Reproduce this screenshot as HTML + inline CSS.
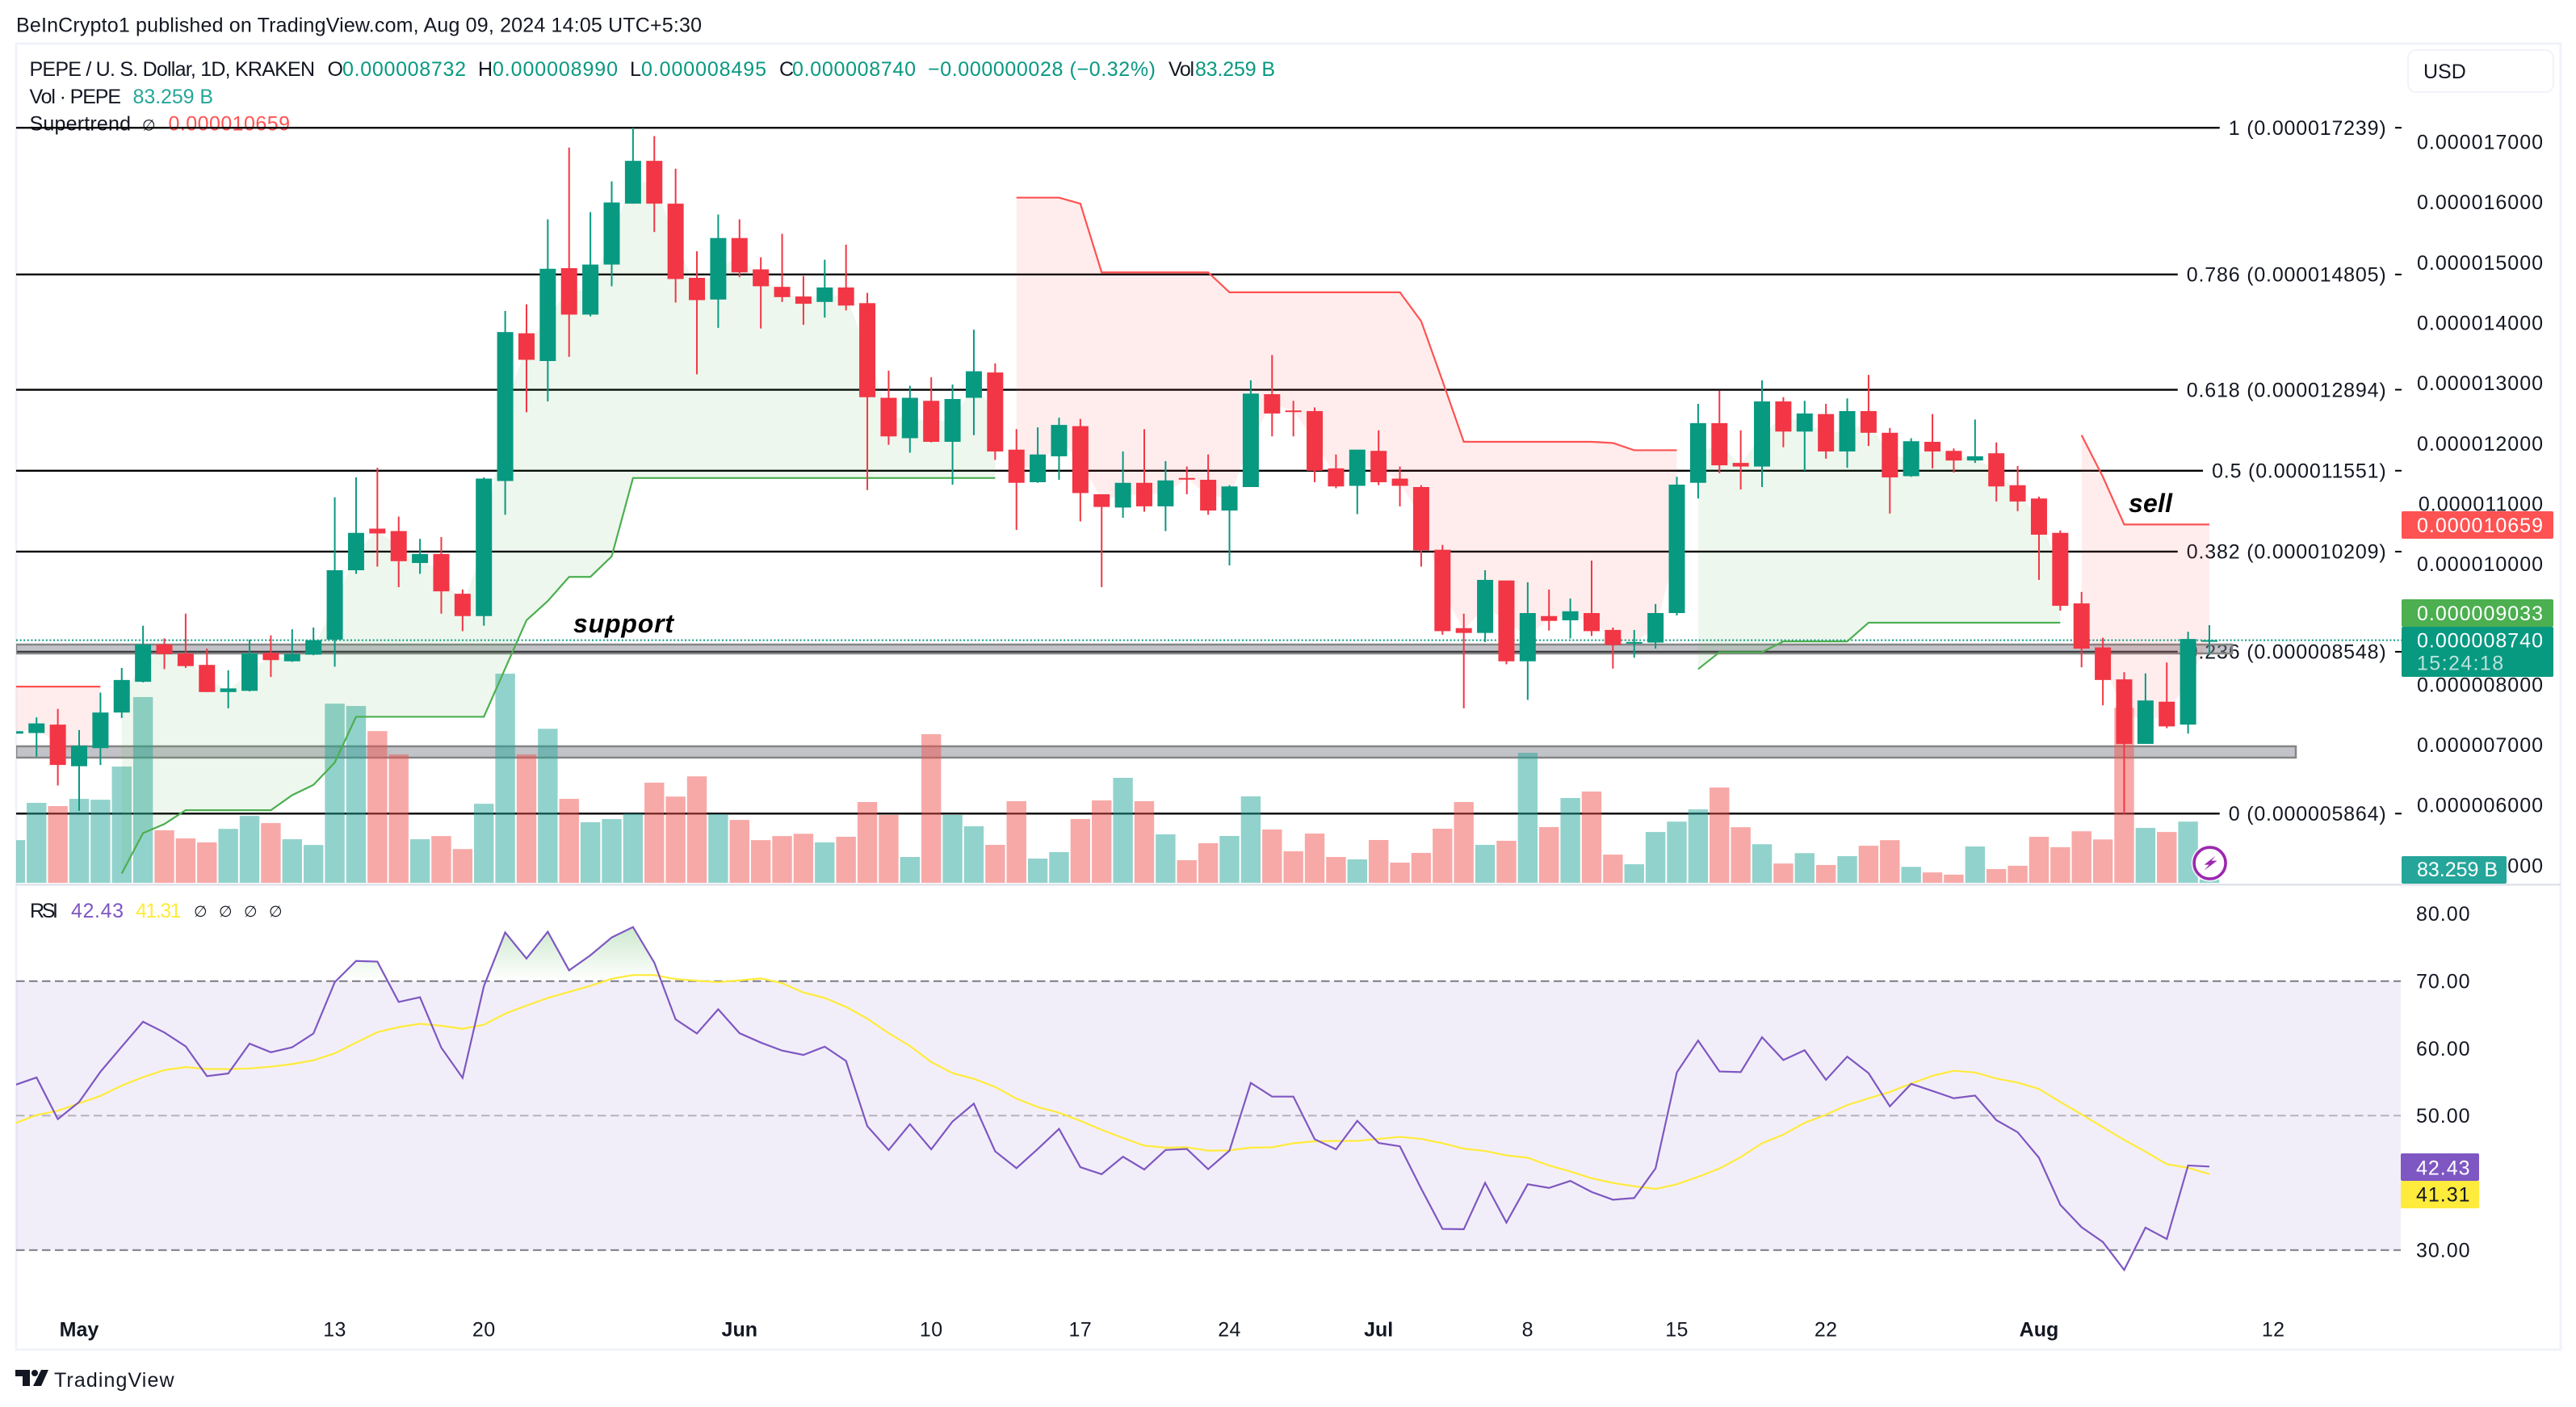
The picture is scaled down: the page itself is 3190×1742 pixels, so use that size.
<!DOCTYPE html>
<html lang="en">
<head>
<meta charset="utf-8">
<title>PEPE / U. S. Dollar chart</title>
<style>
html,body{margin:0;padding:0;background:#fff;width:3190px;height:1742px;overflow:hidden}
svg{display:block;font-family:"Liberation Sans","DejaVu Sans",sans-serif}
text{fill:#131722;font-size:25px}
</style>
</head>
<body>
<svg id="chart" xmlns="http://www.w3.org/2000/svg" width="3190" height="1742" viewBox="0 0 3190 1742">
  <defs>
    <clipPath id="plot-clip"><rect x="20" y="56" width="2954" height="1038"/></clipPath>
    <clipPath id="rsi-clip"><rect x="20" y="1097" width="2954" height="500"/></clipPath>
    <clipPath id="rsi-over-clip"><rect x="20" y="1097" width="2954" height="117.7"/></clipPath>
    <linearGradient id="rsi-over-grad" gradientUnits="userSpaceOnUse" x1="0" y1="1148" x2="0" y2="1214.7">
      <stop offset="0" stop-color="#4caf50" stop-opacity="0.28"/>
      <stop offset="1" stop-color="#4caf50" stop-opacity="0"/>
    </linearGradient>
  </defs>
  <rect x="0" y="0" width="3190" height="1742" fill="#ffffff"/>
  <text x="20" y="39.5" textLength="849" font-size="25">BeInCrypto1 published on TradingView.com, Aug 09, 2024 14:05 UTC+5:30</text>
  <rect x="20" y="54" width="3151" height="1617" fill="none" stroke="#f0f3fa" stroke-width="3"/>

  <g>
    <text x="36.5" y="94" textLength="353.5">PEPE / U. S. Dollar, 1D, KRAKEN</text>
    <text x="405.5" y="94">O</text>
    <text x="424" y="94" textLength="153" style="fill:#089981">0.000008732</text>
    <text x="592" y="94">H</text>
    <text x="610" y="94" textLength="155" style="fill:#089981">0.000008990</text>
    <text x="780" y="94">L</text>
    <text x="794" y="94" textLength="155" style="fill:#089981">0.000008495</text>
    <text x="965" y="94">C</text>
    <text x="981" y="94" textLength="153" style="fill:#089981">0.000008740</text>
    <text x="1149" y="94" textLength="282" style="fill:#089981">−0.000000028 (−0.32%)</text>
    <text x="1447" y="94" textLength="32">Vol</text>
    <text x="1480" y="94" textLength="99" style="fill:#089981">83.259 B</text>
    <text x="36.5" y="128" textLength="113.5">Vol · PEPE</text>
    <text x="164.5" y="128" textLength="99.5" style="fill:#26a69a">83.259 B</text>
    <text x="36.5" y="161.7" textLength="125.5">Supertrend</text>
    <text x="176" y="161.7" style="font-size:19px">∅</text>
    <text x="208.5" y="161.7" textLength="150.5" style="fill:#ff5252">0.000010659</text>
  </g>

  <g id="main-plot" clip-path="url(#plot-clip)">
    <g id="fib-layer"></g>
    <rect x="20" y="798" width="2744" height="11" fill="#787b86" fill-opacity="0.45" stroke="#858585" stroke-width="2.5"/>
    <rect x="20" y="924" width="2823" height="14" fill="#787b86" fill-opacity="0.45" stroke="#858585" stroke-width="2.5"/>
    <g id="volume-layer"></g>
    <g id="fill-layer"></g>
    <line id="price-line" stroke="#089981" stroke-width="2" stroke-dasharray="2 2.6"/>
    <g id="super-layer"></g>
    <g id="candle-layer"></g>
    <text x="710" y="783" textLength="124" style="font-size:32px;font-weight:bold;font-style:italic;fill:#000">support</text>
    <text x="2636" y="634" textLength="54" style="font-size:32px;font-weight:bold;font-style:italic;fill:#000">sell</text>
    <circle cx="2736.6" cy="1068.6" r="23" fill="#ffffff" fill-opacity="0.75"/>
    <circle cx="2736.6" cy="1068.6" r="19.5" fill="#ffffff" stroke="#9c27b0" stroke-width="3.6"/>
    <polygon fill="#9c27b0" points="2743.6,1059.6 2729.6,1070.6 2735.6,1070.6 2729.6,1077.6 2745.6,1065.6 2738.6,1065.6"/>
  </g>

  <g id="price-axis"></g>
  <g>
    <rect x="2982" y="62" width="180" height="52" rx="10" fill="#ffffff" stroke="#f0f3fa" stroke-width="2"/>
    <text x="3001" y="97">USD</text>
  </g>
  <g>
    <rect x="2974" y="633" width="188" height="34" rx="2" fill="#ff5252"/>
    <text x="2993" y="659" style="fill:#fff;letter-spacing:1px">0.000010659</text>
    <rect x="2974" y="742" width="188" height="34" rx="2" fill="#4caf50"/>
    <text x="2993" y="768" style="fill:#fff;letter-spacing:1px">0.000009033</text>
    <rect x="2974" y="776" width="188" height="62" rx="2" fill="#089981"/>
    <text x="2993" y="801.5" style="fill:#fff;letter-spacing:1px">0.000008740</text>
    <text x="2993" y="829.5" style="fill:#fff;fill-opacity:.72;letter-spacing:1.4px">15:24:18</text>
    <rect x="2974" y="1060" width="130" height="34" rx="2" fill="#26a69a"/>
    <text x="2993" y="1085" textLength="100" style="fill:#fff">83.259 B</text>
  </g>

  <rect x="20" y="1094" width="3151" height="2.5" fill="#e0e3eb"/>

  <g>
    <rect id="rsi-band" fill="#7e57c2" fill-opacity="0.1"/>
    <g id="rsi-levels"></g>
    <polygon id="rsi-over" fill="url(#rsi-over-grad)" clip-path="url(#rsi-over-clip)"/>
    <g clip-path="url(#rsi-clip)">
      <polyline id="rsi-ma-line" fill="none" stroke="#ffeb3b" stroke-width="2.2"/>
      <polyline id="rsi-line" fill="none" stroke="#7e57c2" stroke-width="2.2"/>
    </g>
    <text x="37" y="1136" textLength="35">RSI</text>
    <text x="88" y="1136" textLength="65" style="fill:#7e57c2">42.43</text>
    <text x="168" y="1136" textLength="56.5" style="fill:#ffeb3b">41.31</text>
    <text x="240" y="1135" style="font-size:19px">∅</text>
    <text x="271" y="1135" style="font-size:19px">∅</text>
    <text x="302" y="1135" style="font-size:19px">∅</text>
    <text x="333" y="1135" style="font-size:19px">∅</text>
    <g id="rsi-axis"></g>
    <rect x="2973" y="1428" width="97" height="34" rx="2" fill="#7e57c2"/>
    <text x="2992" y="1454.5" style="fill:#fff;letter-spacing:1px">42.43</text>
    <rect x="2973" y="1462" width="97" height="34" rx="2" fill="#ffeb3b"/>
    <text x="2992" y="1487.5" style="letter-spacing:1px">41.31</text>
  </g>

  <g id="time-axis"></g>

  <g>
    <path d="M19 1696H37V1716H28V1704H19Z" fill="#131722"/>
    <circle cx="43" cy="1700" r="4" fill="#131722"/>
    <polygon points="51,1696 60,1696 51,1716 41,1716" fill="#131722"/>
    <text x="67" y="1717" textLength="148.5">TradingView</text>
  </g>
</svg>

<script>
// Values are in units of 0.000001 USD; index 0 is three days before May 1 (firstDay).
var firstDay = -3;
var opens = [7.19,7.20,7.34,6.65,6.95,7.54,8.05,8.67,8.52,8.33,7.88,7.90,8.53,8.39,8.50,8.75,9.90,10.59,10.55,10.02,10.17,9.51,9.14,11.38,13.83,13.37,14.91,14.14,14.97,15.98,16.69,15.98,14.75,14.39,15.41,14.89,14.60,14.44,14.35,14.59,14.33,12.76,12.09,12.71,12.03,12.76,13.18,11.90,11.36,11.79,12.29,11.16,10.94,11.35,10.96,11.43,11.40,10.89,11.28,12.82,12.55,12.54,11.59,11.30,11.88,11.42,11.28,10.24,8.94,8.86,9.73,8.39,9.14,9.07,9.19,8.91,8.69,8.70,9.19,11.35,12.34,11.68,11.62,12.70,12.20,12.49,11.87,12.54,12.18,11.46,12.03,11.88,11.72,11.84,11.31,11.09,10.52,9.35,8.62,8.09,7.02,7.72,7.34,8.732];
var highs = [7.30,7.46,7.60,7.25,7.87,8.28,8.98,8.77,9.18,8.60,8.24,8.75,8.82,8.92,8.95,11.11,11.44,11.60,10.79,10.42,10.45,9.58,11.44,14.20,14.31,15.72,16.91,15.84,16.35,17.24,17.10,16.56,15.19,15.80,15.72,15.09,15.48,14.78,15.05,15.30,14.50,13.21,12.96,13.10,12.98,13.89,13.33,12.24,12.27,12.43,12.41,11.16,11.87,12.24,11.71,11.62,11.82,11.31,13.05,13.47,12.71,12.60,11.82,11.90,12.22,11.62,11.31,10.32,9.18,9.90,9.73,9.70,9.58,9.43,10.06,8.95,8.91,9.34,11.45,12.66,12.88,12.22,13.05,12.77,12.71,12.66,12.75,13.14,12.26,12.09,12.49,11.92,12.40,12.02,11.63,11.12,10.56,9.54,8.78,8.21,8.19,8.37,8.88,8.99];
var lows = [7.10,6.81,6.33,5.91,6.67,7.45,8.04,8.26,8.28,7.88,7.61,7.89,8.13,8.38,8.49,8.30,9.84,9.96,9.62,9.84,9.18,8.89,8.98,10.82,12.52,12.70,13.44,14.11,14.61,15.98,15.51,14.34,13.15,13.92,14.76,13.91,14.35,13.97,14.09,14.21,11.23,11.98,11.85,12.02,11.32,12.14,11.73,10.57,11.35,11.40,10.71,9.62,10.77,10.87,10.55,11.16,10.82,9.98,11.28,12.12,12.12,11.36,11.26,10.83,11.31,10.96,9.96,8.83,7.61,8.71,8.34,7.75,8.90,8.77,8.81,8.27,8.45,8.60,9.15,11.09,11.51,11.24,11.28,11.94,11.55,11.75,11.60,11.96,10.84,11.45,11.59,11.52,11.68,11.04,10.88,9.74,9.23,8.29,7.66,5.86,7.02,7.28,7.19,8.495];
var closes = [7.23,7.36,6.67,6.99,7.54,8.08,8.67,8.51,8.31,7.88,7.94,8.52,8.41,8.51,8.74,9.90,10.52,10.51,10.05,10.17,9.55,9.14,11.42,13.85,13.39,14.90,14.14,14.97,16.00,16.69,15.98,14.73,14.38,15.41,14.84,14.61,14.43,14.32,14.59,14.29,12.77,12.12,12.76,12.03,12.74,13.20,11.87,11.35,11.82,12.31,11.18,10.95,11.35,10.96,11.39,11.41,10.89,11.29,12.83,12.50,12.53,11.55,11.29,11.90,11.36,11.30,10.23,8.89,8.86,9.74,8.39,9.19,9.06,9.22,8.89,8.66,8.71,9.19,11.32,12.34,11.64,11.62,12.70,12.20,12.50,11.87,12.54,12.18,11.44,12.04,11.87,11.72,11.79,11.29,11.04,10.49,9.31,8.60,8.08,7.02,7.74,7.31,8.76,8.74];
var volumes = [1057,1979,1900,2079,2057,2879,4600,1300,1100,1000,1336,1657,1479,1079,936,4436,4379,3757,3179,1079,1157,836,1957,5179,3179,3814,2079,1500,1579,1714,2479,2136,2636,1700,1557,1057,1157,1214,1000,1140,2000,1680,640,3680,1680,1400,940,2020,600,760,1580,2040,2600,2020,1200,560,980,1160,2140,1320,780,1220,640,580,1060,500,740,1340,2000,940,1040,3220,1380,2100,2260,698,460,1258,1515,1818,2360,1377,955,478,735,441,661,918,1056,395,257,202,900,340,422,1139,882,1276,1074,4334,1359,1258,1515,83];
var n = null;
var supertrendUp = [n,n,n,n,n,4.87,5.54,5.69,5.92,5.92,5.92,5.92,5.92,6.17,6.34,6.71,7.47,7.47,7.47,7.47,7.47,7.47,7.47,8.27,9.07,9.39,9.79,9.79,10.13,11.43,11.43,11.43,11.43,11.43,11.43,11.43,11.43,11.43,11.43,11.43,11.43,11.43,11.43,11.43,11.43,11.43,11.43,n,n,n,n,n,n,n,n,n,n,n,n,n,n,n,n,n,n,n,n,n,n,n,n,n,n,n,n,n,n,n,n,8.26,8.54,8.54,8.54,8.72,8.72,8.72,8.72,9.03,9.03,9.03,9.03,9.03,9.03,9.03,9.03,9.03,9.03,n,n,n,n,n,n,n];
var supertrendDown = [7.97,7.97,7.97,7.97,7.97,n,n,n,n,n,n,n,n,n,n,n,n,n,n,n,n,n,n,n,n,n,n,n,n,n,n,n,n,n,n,n,n,n,n,n,n,n,n,n,n,n,n,16.08,16.08,16.08,15.98,14.84,14.84,14.84,14.84,14.84,14.84,14.51,14.51,14.51,14.51,14.51,14.51,14.51,14.51,14.51,14.03,13.04,12.03,12.03,12.03,12.03,12.03,12.03,12.03,12.01,11.89,11.89,11.89,n,n,n,n,n,n,n,n,n,n,n,n,n,n,n,n,n,n,12.14,11.45,10.659,10.659,10.659,10.659,10.659];
var rsiValues = [54.57,55.67,49.48,52.03,56.52,60.26,63.96,62.36,60.31,55.87,56.27,60.71,59.42,60.16,62.21,69.85,73.0,72.9,66.9,67.6,60.1,55.62,69.25,77.24,73.35,77.34,71.6,73.84,76.49,78.04,72.75,64.31,62.21,65.81,62.26,60.86,59.67,59.02,60.26,58.12,48.43,44.89,48.73,44.99,49.13,51.78,44.69,42.19,45.04,48.03,42.34,41.29,43.89,41.99,44.89,45.04,42.04,44.79,54.87,52.83,52.83,46.49,44.99,49.23,45.94,45.44,39.15,33.16,33.11,40.0,34.1,39.8,39.25,40.3,38.65,37.5,37.75,42.14,56.42,61.16,56.57,56.47,61.66,58.27,59.72,55.32,58.77,56.32,51.38,54.72,53.67,52.58,52.98,49.33,47.53,43.74,36.75,33.41,31.21,27.06,33.35,31.66,42.59,42.43];
var rsiMaValues = [48.88,50.08,50.73,51.83,52.93,54.47,55.72,56.77,57.22,56.92,56.92,57.02,57.27,57.67,58.22,59.27,60.86,62.41,63.16,63.66,63.36,62.91,63.51,65.16,66.36,67.5,68.4,69.3,70.35,70.9,70.9,70.3,70.05,69.85,70.1,70.4,69.7,68.3,67.5,66.16,64.41,62.26,60.36,57.97,56.32,55.47,54.27,52.53,51.28,50.43,49.23,47.88,46.68,45.54,45.24,45.29,44.79,44.84,45.24,45.29,45.89,46.19,46.24,46.24,46.54,46.84,46.54,45.89,45.09,44.74,44.09,43.74,42.59,41.69,40.69,39.99,39.5,39.1,39.8,40.9,42.14,43.84,45.89,47.18,48.93,50.13,51.58,52.58,53.52,54.77,55.92,56.67,56.42,55.52,54.92,53.97,52.03,50.18,48.28,46.39,44.64,42.79,42.24,41.31];
var fibRatios = ["1","0.786","0.618","0.5","0.382","0.236","0"];
var fibPrices = [17.239,14.805,12.894,11.551,10.209,8.548,5.864];
var fibPriceLabels = ["0.000017239","0.000014805","0.000012894","0.000011551","0.000010209","0.000008548","0.000005864"];
var priceTickValues = [17,16,15,14,13,12,11,10,8,7,6,5];
var priceTickLabels = ["0.000017000","0.000016000","0.000015000","0.000014000","0.000013000","0.000012000","0.000011000","0.000010000","0.000008000","0.000007000","0.000006000","0.000005000"];
var rsiTickValues = [80,70,60,50,30];
var rsiTickLabels = ["80.00","70.00","60.00","50.00","30.00"];
var rsiLevelValues = [70,50,30];
var timeTickDays = [0,12,19,31,40,47,54,61,68,75,82,92,103];
var timeTickLabels = ["May","13","20","Jun","10","17","24","Jul","8","15","22","Aug","12"];
var timeTickMajor = [1,0,0,1,0,0,0,1,0,0,0,1,0];
var lastPrice = 8.74;

var SVGNS = "http://www.w3.org/2000/svg";
function mk(tag, attrs, parent) {
  var el = document.createElementNS(SVGNS, tag);
  for (var k in attrs) el.setAttribute(k, attrs[k]);
  parent.appendChild(el);
  return el;
}
function xDay(day) { return 98 + 26.38 * day; }
function xIdx(k) { return xDay(k + firstDay); }
function yPrice(p) { return 176 + (17 - p) * 74.65; }
function hVolume(v) { return v * 0.05; }
function yRsi(v) { return 1214.7 + (70 - v) * 8.3275; }
var volumeBase = 1093;

// Fibonacci retracement
var fibLayer = document.getElementById("fib-layer");
fibRatios.forEach(function (r, i) {
  var y = yPrice(fibPrices[i]);
  var t = mk("text", { x: 2955.5, y: y + 8.8, "text-anchor": "end", style: "letter-spacing:.82px" }, fibLayer);
  
  
  t.textContent = r + " (" + fibPriceLabels[i] + ")";
  var end = 2955.5 - t.getComputedTextLength() - 11;
  var l = mk("line", { x1: 20, x2: end, y1: y, y2: y, stroke: "#000", "stroke-width": 2.4 }, fibLayer);
  
  
  var d = mk("line", { x1: 2966, x2: 2974, y1: y, y2: y, stroke: "#000", "stroke-width": 2 }, fibLayer);
  
  
});

// Volume bars
var volumeLayer = document.getElementById("volume-layer");
volumes.forEach(function (v, k) {
  var up = closes[k] >= opens[k];
  var h = hVolume(v);
  var b = mk("rect", { x: xIdx(k) - 12.2, y: volumeBase - h, width: 24.4, height: h, fill: up ? "#26a69a" : "#ef5350", "fill-opacity": 0.5 }, volumeLayer);
  
  
});

// Supertrend fills and lines
var fillLayer = document.getElementById("fill-layer");
var superLayer = document.getElementById("super-layer");
function drawTrend(series, lineColor, fillColor, name) {
  var run = [];
  function flush() {
    if (!run.length) return;
    var top = run.map(function (k) { return xIdx(k) + "," + yPrice(series[k]); });
    var mids = run.slice().reverse().map(function (k) { return xIdx(k) + "," + yPrice((opens[k] + closes[k]) / 2); });
    var poly = mk("polygon", { points: top.concat(mids).join(" "), fill: fillColor, "fill-opacity": 0.1 }, fillLayer);
    
    
    var line = mk("polyline", { points: top.join(" "), fill: "none", stroke: lineColor, "stroke-width": 2.2 }, superLayer);
    
    
    run = [];
  }
  series.forEach(function (v, k) {
    if (v === null) flush(); else run.push(k);
  });
  flush();
}
drawTrend(supertrendUp, "#4caf50", "#4caf50", "supertrend-up");
drawTrend(supertrendDown, "#ff5252", "#ff5252", "supertrend-down");

// Last price line
var pl = document.getElementById("price-line");
pl.setAttribute("x1", 20);
pl.setAttribute("x2", 2974);
pl.setAttribute("y1", yPrice(lastPrice));
pl.setAttribute("y2", yPrice(lastPrice));

// Candles
var candleLayer = document.getElementById("candle-layer");
opens.forEach(function (o, k) {
  var c = closes[k], up = c >= o, col = up ? "#089981" : "#f23645", x = xIdx(k);
  var g = mk("g", {}, candleLayer);
  
  
  var w = mk("rect", { x: x - 1, y: yPrice(highs[k]), width: 2, height: Math.max(1, yPrice(lows[k]) - yPrice(highs[k])), fill: col }, g);
  
  
  var top = yPrice(Math.max(o, c));
  var bh = Math.max(2, Math.abs(yPrice(o) - yPrice(c)));
  var b = mk("rect", { x: x - 10, y: top, width: 20, height: bh, fill: col }, g);
  
  
});

// Price axis labels
var priceAxis = document.getElementById("price-axis");
priceTickValues.forEach(function (v, i) {
  var t = mk("text", { x: 3150, y: yPrice(v) + 8.5, "text-anchor": "end", style: "letter-spacing:1px" }, priceAxis);
  
  
  t.textContent = priceTickLabels[i];
});

// RSI pane
var band = document.getElementById("rsi-band");
band.setAttribute("x", 20);
band.setAttribute("width", 2953);
band.setAttribute("y", yRsi(70));
band.setAttribute("height", yRsi(30) - yRsi(70));
var levels = document.getElementById("rsi-levels");
rsiLevelValues.forEach(function (v) {
  var mid = v === 50;
  var l = mk("line", { x1: 20, x2: 2973, y1: yRsi(v), y2: yRsi(v), stroke: mid ? "#b5b2be" : "#787b86", "stroke-width": 2, "stroke-dasharray": "10.5 5.5" }, levels);
  
  
});
function linePoints(arr, yFn) {
  return arr.map(function (v, k) { return xIdx(k) + "," + yFn(v); }).join(" ");
}
document.getElementById("rsi-line").setAttribute("points", linePoints(rsiValues, yRsi));
document.getElementById("rsi-ma-line").setAttribute("points", linePoints(rsiMaValues, yRsi));
document.getElementById("rsi-over").setAttribute("points",
  xIdx(0) + "," + yRsi(70) + " " + linePoints(rsiValues, yRsi) + " " + xIdx(rsiValues.length - 1) + "," + yRsi(70));
var rsiAxis = document.getElementById("rsi-axis");
rsiTickValues.forEach(function (v, i) {
  var t = mk("text", { x: 3059.5, y: yRsi(v) + 8.8, "text-anchor": "end", style: "letter-spacing:1px" }, rsiAxis);
  
  
  t.textContent = rsiTickLabels[i];
});

// Time axis
var timeAxis = document.getElementById("time-axis");
timeTickLabels.forEach(function (lab, i) {
  var t = mk("text", { x: xDay(timeTickDays[i]), y: 1654.5, "text-anchor": "middle", style: timeTickMajor[i] ? "font-weight:bold" : "letter-spacing:.4px" }, timeAxis);
  
  
  t.textContent = lab;
});
</script>
</body>
</html>
